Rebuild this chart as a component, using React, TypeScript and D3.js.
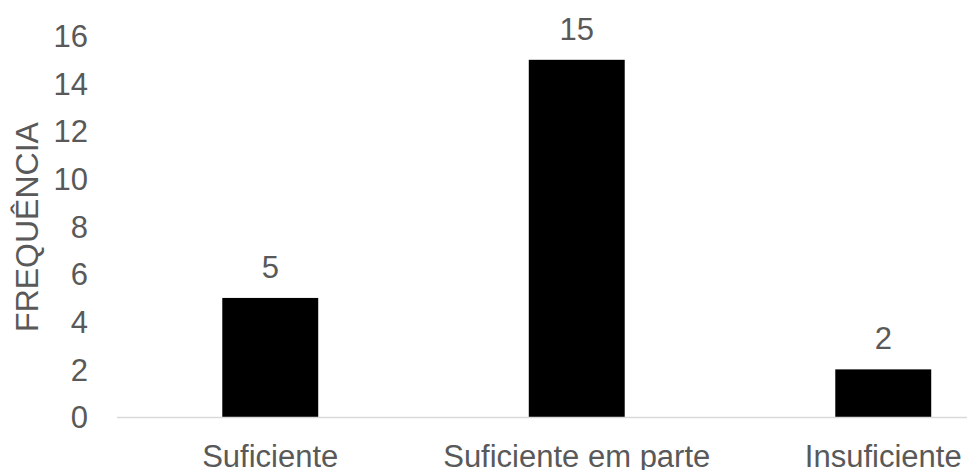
import React from "react";
import * as d3 from "d3";

const categories = ["Suficiente", "Suficiente em parte", "Insuficiente"];
const frequencies = [5, 15, 2];
const yTicks = [0, 2, 4, 6, 8, 10, 12, 14, 16];
const yTitle = "FREQUÊNCIA";

const W = 967;
const H = 470;
const FONT = "'Liberation Sans', Arial, sans-serif";
const TEXT = "#595959";

export default function App() {
  const plotLeft = 117;
  const step = 306.5;
  const x = d3
    .scaleBand<string>()
    .domain(categories)
    .range([plotLeft, plotLeft + step * categories.length])
    .padding(0);
  const y = d3.scaleLinear().domain([0, 16]).range([417, 36]);
  const barW = x.bandwidth() * 0.313;

  return (
    <svg
      width={W}
      height={H}
      style={{ position: "absolute", left: 0, top: 0, background: "#fff" }}
      fontFamily={FONT}
    >
      {yTicks.map((t) => (
        <text
          key={t}
          x={88}
          y={y(t)}
          dy="0.36em"
          textAnchor="end"
          fontSize={31}
          fill={TEXT}
        >
          {t}
        </text>
      ))}
      <text
        transform={`translate(38,${227}) rotate(-90)`}
        textAnchor="middle"
        fontSize={32}
        fill={TEXT}
      >
        {yTitle}
      </text>
      {categories.map((c, i) => {
        const cx = (x(c) as number) + x.bandwidth() / 2;
        return (
          <g key={c}>
            <rect
              x={cx - barW / 2}
              y={y(frequencies[i])}
              width={barW}
              height={y(0) - y(frequencies[i])}
              fill="#000"
            />
            <text
              x={cx}
              y={y(frequencies[i]) - 20}
              textAnchor="middle"
              fontSize={31}
              fill={TEXT}
            >
              {frequencies[i]}
            </text>
            <text x={cx} y={467} textAnchor="middle" fontSize={31} fill={TEXT}>
              {c}
            </text>
          </g>
        );
      })}
      <line
        x1={plotLeft}
        x2={plotLeft + step * categories.length}
        y1={417.5}
        y2={417.5}
        stroke="#d9d9d9"
        strokeWidth={1.3}
      />
    </svg>
  );
}
